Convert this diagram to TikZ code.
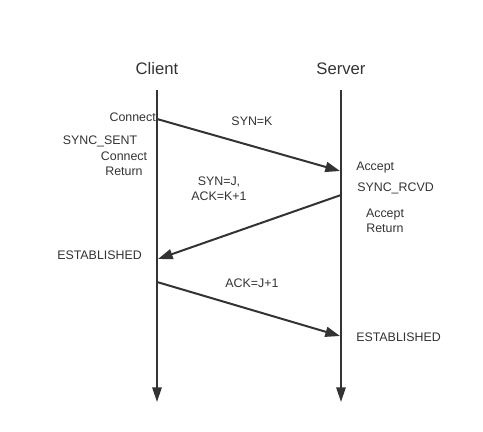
\documentclass[tikz,border=0pt]{standalone}
\usepackage{fontspec}
\setmainfont{Liberation Sans}
\usetikzlibrary{arrows.meta}
\definecolor{ink}{HTML}{333333}
\tikzset{
  msg/.style={draw=ink, line width=1.5pt, -{Triangle[length=11pt,width=7.5pt]}},
  life/.style={draw=ink, line width=1.5pt, -{Triangle[length=11pt,width=7pt]}},
  head/.style={font=\fontsize{12.5}{14}\selectfont, text=ink, inner sep=0pt},
  lbl/.style={font=\fontsize{9.3}{11}\selectfont, text=ink, inner sep=0pt, align=center},
}
\begin{document}
\begin{tikzpicture}[x=0.75pt,y=-0.75pt]
\useasboundingbox (0,0) rectangle (483,432);
% lifelines
\coordinate (ctop) at (157,90);
\coordinate (cbot) at (157,402);
\coordinate (stop) at (341,90);
\coordinate (sbot) at (341,402);
\node[head] (client) at (157,69) {Client};
\node[head] (server) at (341,69) {Server};
\draw[life] (ctop) -- (cbot);
\draw[life] (stop) -- (sbot);
% message endpoints
\coordinate (m1a) at (157,119);
\coordinate (m1b) at (340,171);
\coordinate (m2a) at (341,195);
\coordinate (m2b) at (158,259);
\coordinate (m3a) at (157,282);
\coordinate (m3b) at (340,336);
\draw[msg] (m1a) -- (m1b);
\draw[msg] (m2a) -- (m2b);
\draw[msg] (m3a) -- (m3b);
% labels
\node[lbl, anchor=east] (connect) at (156,117) {Connect};
\node[lbl] (syncsent) at (100,141) {SYNC\_SENT};
\node[lbl] (connret) at (124,164) {Connect\\Return};
\node[lbl] (synk) at (252,121) {SYN=K};
\node[lbl, anchor=west] (accept) at (356,168) {Accept};
\node[lbl, anchor=west] (syncrcvd) at (357,188) {SYNC\_RCVD};
\node[lbl] (accret) at (385,221) {Accept\\Return};
\node[lbl] (synj) at (219,189) {SYN=J,\\ACK=K+1};
\node[lbl, anchor=west] (estc) at (57,255) {ESTABLISHED};
\node[lbl] (ackj) at (252,283) {ACK=J+1};
\node[lbl, anchor=west] (ests) at (356,337) {ESTABLISHED};
\end{tikzpicture}
\end{document}
